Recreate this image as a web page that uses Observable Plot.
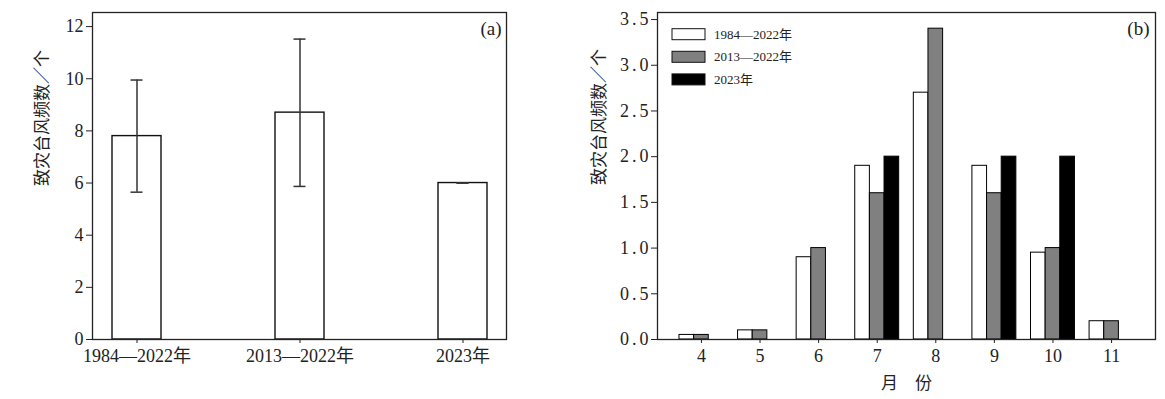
<!DOCTYPE html>
<html><head><meta charset="utf-8">
<script src="https://cdn.jsdelivr.net/npm/d3@7"></script>
<script src="https://cdn.jsdelivr.net/npm/@observablehq/plot@0.6"></script>
<style>
html,body{margin:0;padding:0;background:#fff}
body{width:1165px;height:399px;position:relative;overflow:hidden}
#a{position:absolute;left:0;top:0}
#b{position:absolute;left:580px;top:0}
</style></head><body><div id="a"></div><div id="b"></div>
<script>
// ---- Panel (a) data ----
const periods = ["1984—2022年", "2013—2022年", "2023年"];
const meanCounts = [7.8, 8.7, 6.0];
const errLow = [5.65, 5.87, 6.0];
const errHigh = [9.95, 11.52, 6.0];
const yTicksA = [0, 2, 4, 6, 8, 10, 12];

// ---- Panel (b) data ----
const months = [4, 5, 6, 7, 8, 9, 10, 11];
const series = ["1984—2022年", "2013—2022年", "2023年"];
const s1984 = [0.05, 0.1, 0.9, 1.9, 2.7, 1.9, 0.95, 0.2];
const s2013 = [0.05, 0.1, 1.0, 1.6, 3.4, 1.6, 1.0, 0.2];
const s2023 = [0, 0, 0, 2, 0, 2, 2, 0];
const seriesColors = ["#ffffff", "#808080", "#000000"];
const yTicksB = [0, 0.5, 1, 1.5, 2, 2.5, 3, 3.5];

const yLabel = "致灾台风频数／个";
const xLabelB = "月　份";
const panelLabels = ["(a)", "(b)"];

const serif = "'Liberation Serif','Times New Roman','Noto Sans CJK SC',serif";
const cjk = "'Noto Sans CJK SC',sans-serif";

// ---- Panel (a) ----
const tableA = periods.map((p, i) => ({period: p, mean: meanCounts[i], lo: errLow[i], hi: errHigh[i]}));
const plotA = Plot.plot({
  width: 580, height: 399,
  marginLeft: 92, marginRight: 74, marginTop: 12, marginBottom: 60,
  style: {fontFamily: serif, fontSize: "18px", color: "#222", background: "#fff", overflow: "visible"},
  x: {type: "band", domain: periods, paddingInner: 0.7, paddingOuter: 0.115, label: null},
  y: {domain: [0, 12.54], label: null},
  marks: [
    Plot.barY(tableA, {x: "period", y: "mean", fill: "#fff", stroke: "#111", strokeWidth: 1.4}),
    Plot.ruleX(tableA, {x: "period", y1: "lo", y2: "hi", stroke: "#333", strokeWidth: 1.5}),
    Plot.tickY(tableA, {x: "period", y: "lo", stroke: "#333", strokeWidth: 1.5, insetLeft: 18.5, insetRight: 18.5}),
    Plot.tickY(tableA, {x: "period", y: "hi", stroke: "#333", strokeWidth: 1.5, insetLeft: 18.5, insetRight: 18.5}),
    Plot.axisY({ticks: yTicksA, tickSize: 6, tickPadding: 3, label: null, fontSize: 18, stroke: "#222"}),
    Plot.axisX({tickSize: 4, tickPadding: 6, label: null, fontSize: 18, stroke: "#222"}),
    Plot.frame({stroke: "#222", strokeWidth: 1.3}),
    Plot.text([yLabel], {frameAnchor: "left", rotate: -90, dx: -50, dy: 10, fontFamily: cjk, fontSize: 17, fill: "#222"}),
    Plot.text([panelLabels[0]], {frameAnchor: "top-right", textAnchor: "end", lineAnchor: "middle", dx: -5, dy: 16, fontSize: 19, fill: "#222"})
  ]
});
document.getElementById("a").appendChild(plotA);

// ---- Panel (b) ----
const seriesValues = [s1984, s2013, s2023];
const barWidth = 0.25;
const tableB = months.flatMap((m, i) => series.map((s, j) => ({month: m, series: s, value: seriesValues[j][i], slot: j})));
const plotB = Plot.plot({
  width: 585, height: 399,
  marginLeft: 77, marginRight: 10, marginTop: 12, marginBottom: 60,
  style: {fontFamily: serif, fontSize: "18px", color: "#222", background: "#fff", overflow: "visible"},
  x: {domain: [3.25, 11.75], label: null},
  y: {domain: [0, 3.577], label: null},
  color: {domain: series, range: seriesColors},
  marks: [
    Plot.rect(tableB, {
      x1: d => d.month + (d.slot - 1) * barWidth - barWidth / 2,
      x2: d => d.month + (d.slot - 1) * barWidth + barWidth / 2,
      y1: d => 0, y2: "value",
      fill: "series", stroke: "#000", strokeWidth: 1
    }),
    Plot.axisY({ticks: yTicksB, tickFormat: d3.format(".1f"), tickSize: 6, tickPadding: 0, label: null, fontSize: 18, stroke: "#222"}),
    Plot.axisX({ticks: months, tickFormat: d => String(d), tickSize: 4, tickPadding: 6, label: null, fontSize: 18, stroke: "#222"}),
    Plot.frame({stroke: "#222", strokeWidth: 1.3}),
    Plot.text([yLabel], {frameAnchor: "left", rotate: -90, dx: -58, dy: 9, fontFamily: cjk, fontSize: 17, fill: "#222"}),
    Plot.text([xLabelB], {frameAnchor: "bottom", lineAnchor: "middle", dy: 44, fontFamily: cjk, fontSize: 17, fill: "#222"}),
    Plot.text([panelLabels[1]], {frameAnchor: "top-right", textAnchor: "end", lineAnchor: "middle", dx: -6, dy: 16, fontSize: 19, fill: "#222"})
  ]
});
document.getElementById("b").appendChild(plotB);
d3.select(plotB).selectAll('g[aria-label="y-axis tick label"] text').style("letter-spacing", "3px");

// legend for panel (b)
const svgB = d3.select(plotB);
const leg = svgB.append("g").attr("aria-label", "legend").attr("text-anchor", "start");
series.forEach((s, i) => {
  const y0 = 28.7 + i * 22.6;
  leg.append("rect").attr("x", 92).attr("y", y0).attr("width", 33).attr("height", 11)
    .attr("fill", seriesColors[i]).attr("stroke", "#111").attr("stroke-width", 1);
  leg.append("text").attr("x", 134).attr("y", y0 + 5.5).attr("dy", "0.35em")
    .attr("text-anchor", "start")
    .attr("font-family", serif).attr("font-size", 13).attr("fill", "#222").text(s);
});
</script>
</body></html>
